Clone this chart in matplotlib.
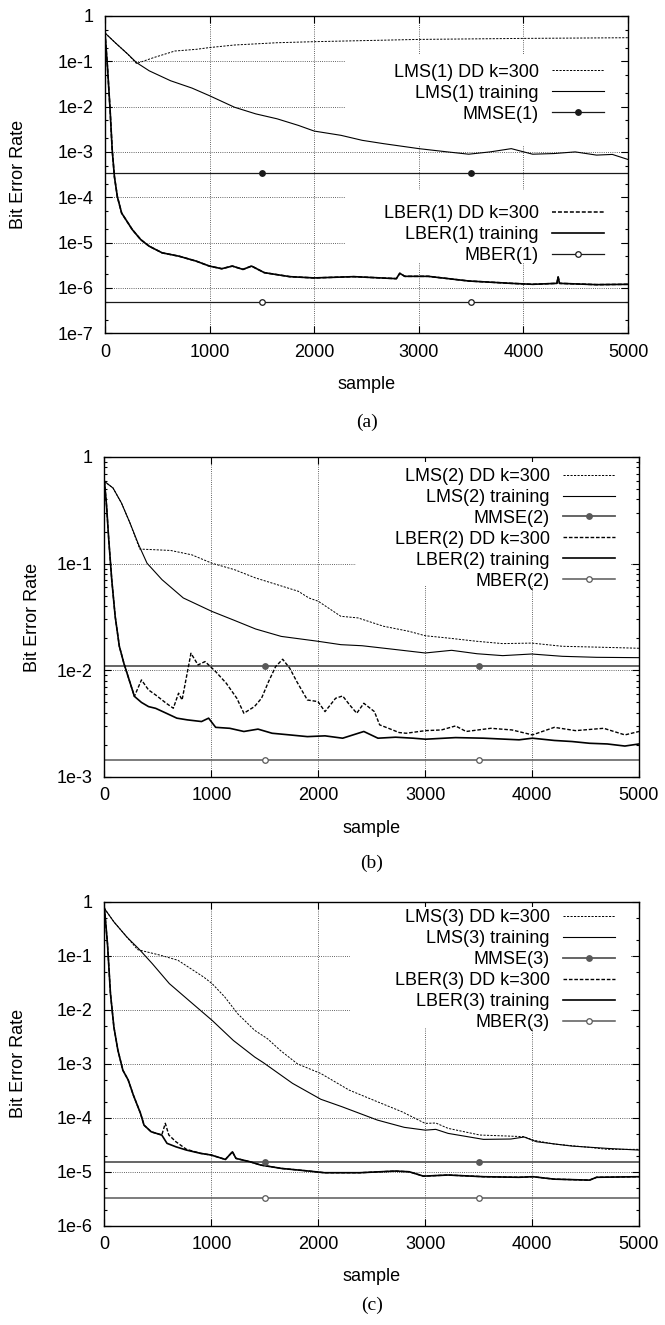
import math
import matplotlib
matplotlib.use("Agg")
import matplotlib.pyplot as plt
from matplotlib.lines import Line2D
from matplotlib.patches import Rectangle
from matplotlib.ticker import FixedLocator, FuncFormatter, NullFormatter, NullLocator

plt.rcParams['font.family'] = ['Liberation Sans', 'DejaVu Sans']

# ---------------- panel (a) ----------------
lms1_dd_s = [0, 98, 220, 301, 464, 668, 871, 998, 1238, 1645, 2000, 3001, 4000, 5000]
lms1_dd_v = [0.42, 0.256, 0.142, 0.089, 0.12, 0.168, 0.183, 0.2, 0.228, 0.256, 0.27, 0.303, 0.319, 0.33]
lms1_tr_s = [0, 98, 220, 301, 423, 627, 831, 998, 1238, 1441, 1645, 1849, 2000, 2256, 2459,
             2663, 3001, 3274, 3477, 3681, 3884, 4088, 4292, 4495, 4699, 4850, 5000]
lms1_tr_v = [0.42, 0.256, 0.142, 0.0935, 0.0614, 0.0371, 0.0256, 0.0174, 0.00966, 0.0069, 0.00537,
             0.00384, 0.00288, 0.00232, 0.0018, 0.00152, 0.00118, 0.001, 0.00089, 0.001, 0.00118,
             0.00089, 0.00092, 0.001, 0.00085, 0.00088, 0.00068]
lber1_tr_s = [0, 24, 49, 69, 90, 118, 159, 200, 261, 342, 423, 546, 708, 871, 998, 1116, 1217, 1319,
              1401, 1523, 1767, 2000, 2378, 2785, 2818, 2866, 3090, 3477, 3884, 4088, 4320, 4332, 4345,
              4699, 5000]
lber1_tr_v = [0.42, 0.073, 0.0082, 0.00109, 2.84e-4, 1.03e-4, 4.47e-5, 3.19e-5, 1.93e-5, 1.16e-5,
              8.3e-6, 5.94e-6, 5.0e-6, 3.9e-6, 3.03e-6, 2.65e-6, 3.03e-6, 2.56e-6, 3.03e-6, 2.17e-6,
              1.77e-6, 1.66e-6, 1.77e-6, 1.6e-6, 2.1e-6, 1.8e-6, 1.8e-6, 1.42e-6, 1.26e-6, 1.2e-6,
              1.26e-6, 1.74e-6, 1.26e-6, 1.18e-6, 1.2e-6]
lber1_dd_s = lber1_tr_s   # DD curve lies on the training curve
lber1_dd_v = lber1_tr_v
mmse1 = 3.5e-4
mber1 = 4.93e-7

# ---------------- panel (b) ----------------
lms2_dd_s = [0, 80, 159, 239, 330, 618, 817, 1004, 1215, 1414, 1614, 1813, 1912, 2000, 2211, 2371,
             2610, 2849, 3000, 3207, 3486, 3725, 3996, 4283, 4602, 5000]
lms2_dd_v = [0.59, 0.512, 0.37, 0.24, 0.137, 0.133, 0.121, 0.101, 0.0879, 0.0734, 0.0636, 0.0551,
             0.0477, 0.0444, 0.0321, 0.031, 0.0259, 0.0232, 0.0211, 0.0201, 0.0187, 0.0178, 0.018,
             0.0168, 0.0165, 0.0161]
lms2_tr_s = [0, 80, 159, 239, 319, 398, 538, 737, 1004, 1215, 1414, 1653, 2000, 2211, 2410, 2689,
             3000, 3247, 3486, 3725, 3996, 4283, 4602, 5000]
lms2_tr_v = [0.59, 0.512, 0.37, 0.24, 0.151, 0.101, 0.0708, 0.0477, 0.0357, 0.0294, 0.0244, 0.0208,
             0.0187, 0.0174, 0.017, 0.0158, 0.01454, 0.0154, 0.0143, 0.01373, 0.01422, 0.01353,
             0.01324, 0.01314]
lber2_dd_s = [0, 20, 40, 68, 100, 139, 182, 231, 280, 346, 412, 479, 578, 644, 693, 726, 809, 875,
              941, 1040, 1139, 1238, 1304, 1403, 1469, 1535, 1601, 1667, 1733, 1799, 1898, 1997, 2063,
              2162, 2228, 2294, 2360, 2426, 2525, 2574, 2657, 2756, 2822, 3003, 3152, 3284, 3383,
              3614, 3812, 4003, 4208, 4406, 4670, 4868, 5000]
lber2_dd_v = [0.59, 0.345, 0.168, 0.0708, 0.0321, 0.0168, 0.0116, 0.00813, 0.0057, 0.00813,
              0.00655, 0.00587, 0.00491, 0.00441, 0.0061, 0.00527, 0.01445, 0.01124, 0.01208,
              0.00973, 0.00757, 0.00547, 0.00396, 0.00457, 0.00547, 0.00784, 0.01084, 0.0127,
              0.01046, 0.00784, 0.00527, 0.00509, 0.0041, 0.00547, 0.00575, 0.00473, 0.00396,
              0.00491, 0.0041, 0.00308, 0.00286, 0.00261, 0.00257, 0.00272, 0.00276, 0.00301,
              0.00267, 0.00286, 0.00276, 0.00248, 0.00292, 0.00272, 0.00286, 0.00248, 0.00267]
lber2_tr_s = [0, 20, 40, 68, 100, 139, 182, 231, 280, 346, 412, 479, 578, 677, 776, 908, 974, 1040,
              1172, 1304, 1436, 1568, 1733, 1898, 2063, 2228, 2426, 2558, 2723, 2888, 3003, 3284,
              3548, 3878, 4003, 4208, 4373, 4538, 4703, 4868, 5000]
lber2_tr_v = [0.59, 0.345, 0.168, 0.0708, 0.0321, 0.0168, 0.0116, 0.00813, 0.0057, 0.0050,
              0.00457, 0.0044, 0.00396, 0.00356, 0.00343, 0.00331, 0.00356, 0.00292, 0.00286,
              0.00267, 0.00281, 0.00257, 0.00248, 0.00239, 0.00243, 0.00231, 0.00267, 0.00231,
              0.00236, 0.00231, 0.00226, 0.00234, 0.00231, 0.00223, 0.00231, 0.0022, 0.00215,
              0.00207, 0.00204, 0.00195, 0.00204]
mmse2 = 0.01106
mber2 = 1.43e-3

# ---------------- panel (c) ----------------
lms3_dd_s = [0, 88, 208, 310, 527, 687, 807, 927, 1007, 1126, 1246, 1406, 1526, 1646, 1805, 2024,
             2288, 2553, 2784, 3000, 3099, 3214, 3512, 3925, 4008, 4206, 4537, 4703, 5000]
lms3_dd_v = [0.75, 0.425, 0.224, 0.13, 0.102, 0.0826, 0.0578, 0.0405, 0.0305, 0.0172, 0.00845,
             0.00415, 0.0029, 0.00176, 9.97e-4, 6.6e-4, 3.26e-4, 1.98e-4, 1.29e-4, 7.87e-5, 8.0e-5,
             6.37e-5, 4.79e-5, 4.47e-5, 3.86e-5, 3.26e-5, 2.83e-5, 2.6e-5, 2.6e-5]
lms3_tr_s = [0, 88, 208, 328, 447, 607, 807, 1007, 1206, 1406, 1486, 1759, 2024, 2222, 2553, 2804,
             3000, 3099, 3214, 3545, 3802, 3925, 4041, 4372, 4703, 5000]
lms3_tr_v = [0.75, 0.425, 0.224, 0.13, 0.0716, 0.0305, 0.0139, 0.00636, 0.0027, 0.00133, 0.00105,
             4.34e-4, 2.2e-4, 1.6e-4, 9.06e-5, 6.65e-5, 5.9e-5, 6.1e-5, 5.14e-5, 3.98e-5, 4.04e-5,
             4.4e-5, 3.6e-5, 2.99e-5, 2.71e-5, 2.52e-5]
lber3_dd_s = [0, 28, 56, 88, 125, 172, 222, 271, 337, 370, 437, 536, 569, 602, 668, 767, 900, 999,
              1131, 1197, 1230, 1362, 1462, 1660, 1892, 2057, 2388, 2718, 2851, 2983, 3214, 3545,
              3876, 4008, 4206, 4537, 4603, 5000]
lber3_dd_v = [0.75, 0.168, 0.02, 0.0048, 0.0018, 7.6e-4, 5.0e-4, 2.6e-4, 1.21e-4, 7.3e-5, 5.5e-5,
              4.79e-5, 7.9e-5, 4.79e-5, 3.6e-5, 2.6e-5, 2.19e-5, 2.04e-5, 1.69e-5, 2.34e-5, 1.77e-5,
              1.53e-5, 1.33e-5, 1.15e-5, 1.04e-5, 9.6e-6, 9.6e-6, 1.03e-5, 1.0e-5, 8.3e-6, 8.7e-6,
              8.1e-6, 7.9e-6, 8.1e-6, 7.3e-6, 7.0e-6, 7.9e-6, 8.1e-6]
lber3_tr_s = [0, 28, 56, 88, 125, 172, 222, 271, 337, 370, 437, 536, 585, 668, 767, 900, 999, 1131,
              1197, 1230, 1362, 1462, 1660, 1892, 2057, 2388, 2718, 2851, 2983, 3214, 3545, 3876,
              4008, 4206, 4537, 4603, 5000]
lber3_tr_v = [0.75, 0.168, 0.02, 0.0048, 0.0018, 7.6e-4, 5.0e-4, 2.6e-4, 1.21e-4, 7.3e-5, 5.5e-5,
              4.79e-5, 3.36e-5, 2.9e-5, 2.52e-5, 2.19e-5, 2.04e-5, 1.69e-5, 2.34e-5, 1.77e-5,
              1.53e-5, 1.33e-5, 1.15e-5, 1.04e-5, 9.6e-6, 9.6e-6, 1.03e-5, 1.0e-5, 8.3e-6, 8.7e-6,
              8.1e-6, 7.9e-6, 8.1e-6, 7.3e-6, 7.0e-6, 7.9e-6, 8.1e-6]
mmse3 = 1.53e-5
mber3 = 3.21e-6

mark_s = [1500, 3500]          # where the MMSE / MBER markers sit
x_ticks = [0, 1000, 2000, 3000, 4000, 5000]

FS = 13
DD_THIN = (0, (2.2, 1.4))
DD_THICK = (0, (2.6, 1.3))


def decade_label(v, pos):
    k = int(round(-math.log10(v)))
    return '1' if k == 0 else '1e-%d' % k


def setup(ax, ymin_exp, minor_mults, boxes):
    ax.set_yscale('log')
    ax.set_xlim(0, 5000)
    ax.set_ylim(10.0 ** ymin_exp, 1)
    ax.set_xticks(x_ticks)
    ax.xaxis.set_minor_locator(NullLocator())
    ax.yaxis.set_major_locator(FixedLocator([10.0 ** k for k in range(ymin_exp, 1)]))
    ax.yaxis.set_minor_locator(FixedLocator([m * 10.0 ** k for k in range(ymin_exp, 0)
                                             for m in minor_mults]))
    ax.yaxis.set_major_formatter(FuncFormatter(decade_label))
    ax.yaxis.set_minor_formatter(NullFormatter())
    ax.tick_params(which='both', direction='in', top=True, right=True, labelsize=FS, width=0.8)
    ax.tick_params(which='major', length=5)
    ax.tick_params(which='minor', length=2.5)
    ax.tick_params(axis='y', pad=8.5)
    ax.tick_params(axis='x', pad=7.5)
    for sp in ax.spines.values():
        sp.set_linewidth(1.0)
    ax.set_axisbelow(True)
    ax.grid(True, which='major', color='0.2', linestyle=(0, (1, 1.6)), linewidth=0.6)
    # key areas blank the grid, as gnuplot does
    for x0, y0, x1, y1 in boxes:
        ax.add_patch(Rectangle((x0, y0), x1 - x0, y1 - y0, transform=ax.transAxes,
                               facecolor='white', edgecolor='none', zorder=1))


def ref_line(ax, v, filled, color, lw):
    ax.axhline(v, color=color, lw=lw, zorder=2)
    ax.plot(mark_s, [v] * len(mark_s), linestyle='none', marker='o', ms=4,
            mfc=color if filled else 'white', mec=color, mew=0.9, zorder=3)
    return Line2D([], [], color=color, lw=lw, marker='o', ms=4,
                  mfc=color if filled else 'white', mec=color, mew=0.9)


def key(ax, handles, labels, anchor):
    return ax.legend(handles, labels, loc='upper right', bbox_to_anchor=anchor, frameon=False,
                     markerfirst=False, handlelength=2.9, handletextpad=0.7, borderpad=0,
                     borderaxespad=0, labelspacing=0.22, fontsize=FS, numpoints=1)


def labels(ax, ylab_x, xlab_y, cap_y, cap):
    ax.text(ylab_x, 0.5, 'Bit Error Rate', rotation=90, ha='center', va='center',
            fontsize=FS, transform=ax.transAxes)
    ax.text(0.5, xlab_y, 'sample', ha='center', va='center', fontsize=FS, transform=ax.transAxes)
    ax.text(0.5, cap_y, cap, ha='center', va='center', fontsize=14,
            family=['Liberation Serif', 'DejaVu Serif'], transform=ax.transAxes)


fig = plt.figure(figsize=(6.65, 13.25), dpi=100)

# ---- (a)
axa = fig.add_axes([0.1579, 0.7485, 0.7865, 0.2395])
setup(axa, -7, [2, 5], [(0.459, 0.593, 0.985, 0.877), (0.459, 0.225, 0.985, 0.452)])
h1, = axa.plot(lms1_dd_s, lms1_dd_v, color='black', lw=0.7, ls=DD_THIN, zorder=2)
h2, = axa.plot(lms1_tr_s, lms1_tr_v, color='black', lw=0.8, zorder=2)
h3 = ref_line(axa, mmse1, True, '0.1', 0.9)
h4, = axa.plot(lber1_dd_s, lber1_dd_v, color='black', lw=1.1, ls=DD_THICK, zorder=2)
h5, = axa.plot(lber1_tr_s, lber1_tr_v, color='black', lw=1.2, zorder=2)
h6 = ref_line(axa, mber1, False, '0.1', 0.9)
lega = key(axa, [h1, h2, h3], ['LMS(1) DD k=300', 'LMS(1) training', 'MMSE(1)'], (0.954, 0.849))
axa.add_artist(lega)
key(axa, [h4, h5, h6], ['LBER(1) DD k=300', 'LBER(1) training', 'MBER(1)'], (0.954, 0.404))
labels(axa, -0.165, -0.163, -0.28, '(a)')

# ---- (b)
axb = fig.add_axes([0.1571, 0.4136, 0.8038, 0.2415])
setup(axb, -3, [2, 3, 4, 5, 6, 7, 8, 9], [(0.47, 0.60, 0.985, 0.985)])
g1, = axb.plot(lms2_dd_s, lms2_dd_v, color='black', lw=0.7, ls=DD_THIN, zorder=2)
g2, = axb.plot(lms2_tr_s, lms2_tr_v, color='black', lw=0.8, zorder=2)
g3 = ref_line(axb, mmse2, True, '0.35', 1.3)
g4, = axb.plot(lber2_dd_s, lber2_dd_v, color='black', lw=1.0, ls=DD_THICK, zorder=2)
g5, = axb.plot(lber2_tr_s, lber2_tr_v, color='black', lw=1.2, zorder=2)
g6 = ref_line(axb, mber2, False, '0.35', 1.1)
key(axb, [g1, g2, g3, g4, g5, g6],
    ['LMS(2) DD k=300', 'LMS(2) training', 'MMSE(2)',
     'LBER(2) DD k=300', 'LBER(2) training', 'MBER(2)'], (0.955, 0.966))
labels(axb, -0.135, -0.16, -0.27, '(b)')

# ---- (c)
axc = fig.add_axes([0.1571, 0.0749, 0.8038, 0.2445])
setup(axc, -6, [2, 5], [(0.459, 0.61, 0.985, 0.985)])
k1, = axc.plot(lms3_dd_s, lms3_dd_v, color='black', lw=0.7, ls=DD_THIN, zorder=2)
k2, = axc.plot(lms3_tr_s, lms3_tr_v, color='black', lw=0.8, zorder=2)
k3 = ref_line(axc, mmse3, True, '0.35', 1.3)
k4, = axc.plot(lber3_dd_s, lber3_dd_v, color='black', lw=1.0, ls=DD_THICK, zorder=2)
k5, = axc.plot(lber3_tr_s, lber3_tr_v, color='black', lw=1.2, zorder=2)
k6 = ref_line(axc, mber3, False, '0.35', 1.1)
key(axc, [k1, k2, k3, k4, k5, k6],
    ['LMS(3) DD k=300', 'LMS(3) training', 'MMSE(3)',
     'LBER(3) DD k=300', 'LBER(3) training', 'MBER(3)'], (0.955, 0.977))
labels(axc, -0.16, -0.158, -0.245, '(c)')

fig.savefig('out.png', dpi=100)
